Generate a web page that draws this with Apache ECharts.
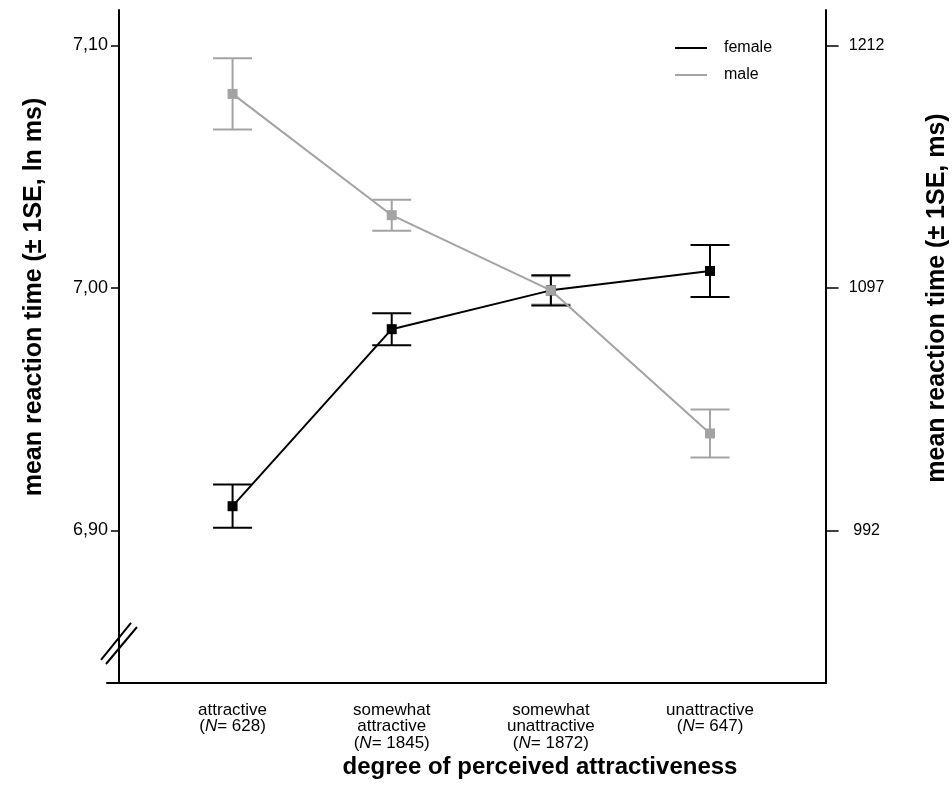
<!DOCTYPE html>
<html>
<head>
<meta charset="utf-8">
<script src="https://cdn.jsdelivr.net/npm/echarts@6/dist/echarts.min.js"></script>
<style>
  html, body { margin: 0; padding: 0; background: #fff; }
  #chart { width: 952px; height: 800px; }
</style>
</head>
<body>
<div id="chart"></div>
<script>
// Attractiveness categories and their sample sizes
const categories = ['attractive', 'somewhat\nattractive', 'somewhat\nunattractive', 'unattractive'];
const sampleSizes = [628, 1845, 1872, 647];

// Mean log reaction time (ln ms) and standard error per group
const femaleMean = [6.910, 6.983, 6.999, 7.007];
const femaleSE   = [0.0089, 0.0066, 0.0062, 0.0107];
const maleMean   = [7.080, 7.030, 6.999, 6.940];
const maleSE     = [0.0147, 0.0064, 0.0058, 0.0099];

// Ticks on the log scale; the right axis shows the same positions in ms
const logTicks = [6.90, 7.00, 7.10];
const axisMin = 6.8371;
const axisMax = 7.1146;
const breakValue = 6.8536;

const FONT = '"Liberation Sans", Arial, sans-serif';
const FEMALE_COLOR = '#000000';
const MALE_COLOR = '#a3a3a3';

function errorBarData(means, ses) {
  return means.map((m, i) => [i, m - ses[i], m + ses[i]]);
}

function errorBarSeries(means, ses, color) {
  return {
    type: 'custom',
    xAxisIndex: 0,
    yAxisIndex: 0,
    data: errorBarData(means, ses),
    encode: { x: 0, y: [1, 2] },
    silent: true,
    z: 3,
    renderItem: function (params, api) {
      const lo = api.coord([api.value(0), api.value(1)]);
      const hi = api.coord([api.value(0), api.value(2)]);
      const half = 19.5;
      const style = { stroke: color, lineWidth: 2 };
      return {
        type: 'group',
        children: [
          { type: 'line', shape: { x1: lo[0], y1: lo[1], x2: hi[0], y2: hi[1] }, style: style },
          { type: 'line', shape: { x1: lo[0] - half, y1: lo[1], x2: lo[0] + half, y2: lo[1] }, style: style },
          { type: 'line', shape: { x1: hi[0] - half, y1: hi[1], x2: hi[0] + half, y2: hi[1] }, style: style }
        ]
      };
    }
  };
}

const chart = echarts.init(document.getElementById('chart'), null, { renderer: 'canvas' });

const option = {
  animation: false,
  backgroundColor: '#ffffff',
  textStyle: { fontFamily: FONT },
  legend: {
    data: ['female', 'male'],
    orient: 'vertical',
    left: 670,
    top: 35,
    icon: 'rect',
    itemWidth: 32,
    itemHeight: 2,
    itemGap: 11,
    selectedMode: false,
    textStyle: { fontFamily: FONT, fontSize: 16, color: '#000', padding: [0, 0, 0, 12] }
  },
  grid: [
    { left: 153, right: 162.4, top: 10, bottom: 117 },
    { left: 107, right: 126, top: 10, bottom: 117 }
  ],
  xAxis: [
    {
      type: 'category',
      gridIndex: 0,
      data: categories,
      boundaryGap: true,
      axisLine: { show: false },
      axisTick: { show: false },
      splitLine: { show: false },
      axisLabel: {
        interval: 0,
        margin: 19,
        formatter: function (value, idx) {
          const lines = value.split('\n').map(l => '{t|' + l + '}').join('\n');
          return lines + '\n{t|(}{i|N}{t|= ' + sampleSizes[idx] + ')}';
        },
        rich: {
          t: { fontFamily: FONT, fontSize: 17, lineHeight: 16.5, color: '#000' },
          i: { fontFamily: FONT, fontSize: 17, lineHeight: 16.5, color: '#000', fontStyle: 'italic' }
        }
      }
    },
    {
      type: 'value',
      gridIndex: 1,
      min: 0,
      max: 1,
      axisLine: { show: true, lineStyle: { color: '#000', width: 2 } },
      axisTick: { show: false },
      axisLabel: { show: false },
      splitLine: { show: false }
    }
  ],
  yAxis: [
    {
      type: 'value',
      gridIndex: 0,
      position: 'left',
      offset: 34,
      min: axisMin,
      max: axisMax,
      axisLine: { show: true, lineStyle: { color: '#000', width: 2 } },
      axisTick: { show: true, customValues: logTicks, length: 8, lineStyle: { color: '#000', width: 1.5 } },
      axisLabel: {
        customValues: logTicks,
        margin: 11,
        fontFamily: FONT,
        fontSize: 18,
        color: '#000',
        formatter: v => v.toFixed(2).replace('.', ',')
      },
      splitLine: { show: false }
    },
    {
      type: 'value',
      gridIndex: 0,
      position: 'right',
      offset: 36,
      min: axisMin,
      max: axisMax,
      axisLine: { show: true, lineStyle: { color: '#000', width: 2 } },
      axisTick: { show: true, customValues: logTicks, length: 13, lineStyle: { color: '#000', width: 1.5 } },
      axisLabel: {
        customValues: logTicks,
        margin: 41,
        align: 'center',
        fontFamily: FONT,
        fontSize: 16,
        color: '#000',
        formatter: v => String(Math.round(Math.exp(v)))
      },
      splitLine: { show: false }
    },
    {
      type: 'value',
      gridIndex: 1,
      show: false,
      min: 0,
      max: 1
    }
  ],
  series: [
    errorBarSeries(maleMean, maleSE, MALE_COLOR),
    errorBarSeries(femaleMean, femaleSE, FEMALE_COLOR),
    {
      name: 'female',
      type: 'line',
      xAxisIndex: 0,
      yAxisIndex: 0,
      data: femaleMean,
      color: FEMALE_COLOR,
      symbol: 'rect',
      symbolSize: 10,
      lineStyle: { color: FEMALE_COLOR, width: 2 },
      itemStyle: { color: FEMALE_COLOR },
      z: 4
    },
    {
      name: 'male',
      type: 'line',
      xAxisIndex: 0,
      yAxisIndex: 0,
      data: maleMean,
      color: MALE_COLOR,
      symbol: 'rect',
      symbolSize: 10,
      lineStyle: { color: MALE_COLOR, width: 2 },
      itemStyle: { color: MALE_COLOR },
      z: 5
    }
  ]
};

chart.setOption(option);

// Axis titles and the axis-break mark on the left axis
const axisX = chart.convertToPixel({ gridIndex: 1 }, [0, 0])[0] + 12;
const breakY = chart.convertToPixel({ yAxisIndex: 0 }, breakValue);
const titleFont = 'bold 25px ' + FONT;

chart.setOption({
  graphic: [
    {
      type: 'text', x: 34, y: 297, rotation: Math.PI / 2,
      style: { text: 'mean reaction time (± 1SE, ln ms)', font: titleFont, fill: '#000', align: 'center', verticalAlign: 'middle' }
    },
    {
      type: 'text', x: 937, y: 298, rotation: Math.PI / 2,
      style: { text: 'mean reaction time (± 1SE, ms)', font: titleFont, fill: '#000', align: 'center', verticalAlign: 'middle' }
    },
    {
      type: 'text', x: 540, y: 767,
      style: { text: 'degree of perceived attractiveness', font: 'bold 24px ' + FONT, fill: '#000', align: 'center', verticalAlign: 'middle' }
    },
    {
      type: 'line',
      shape: { x1: axisX - 18, y1: breakY + 17, x2: axisX + 12, y2: breakY - 20 },
      style: { stroke: '#000', lineWidth: 2 }
    },
    {
      type: 'line',
      shape: { x1: axisX - 13, y1: breakY + 21, x2: axisX + 18, y2: breakY - 16 },
      style: { stroke: '#000', lineWidth: 2 }
    }
  ]
});
</script>
</body>
</html>
